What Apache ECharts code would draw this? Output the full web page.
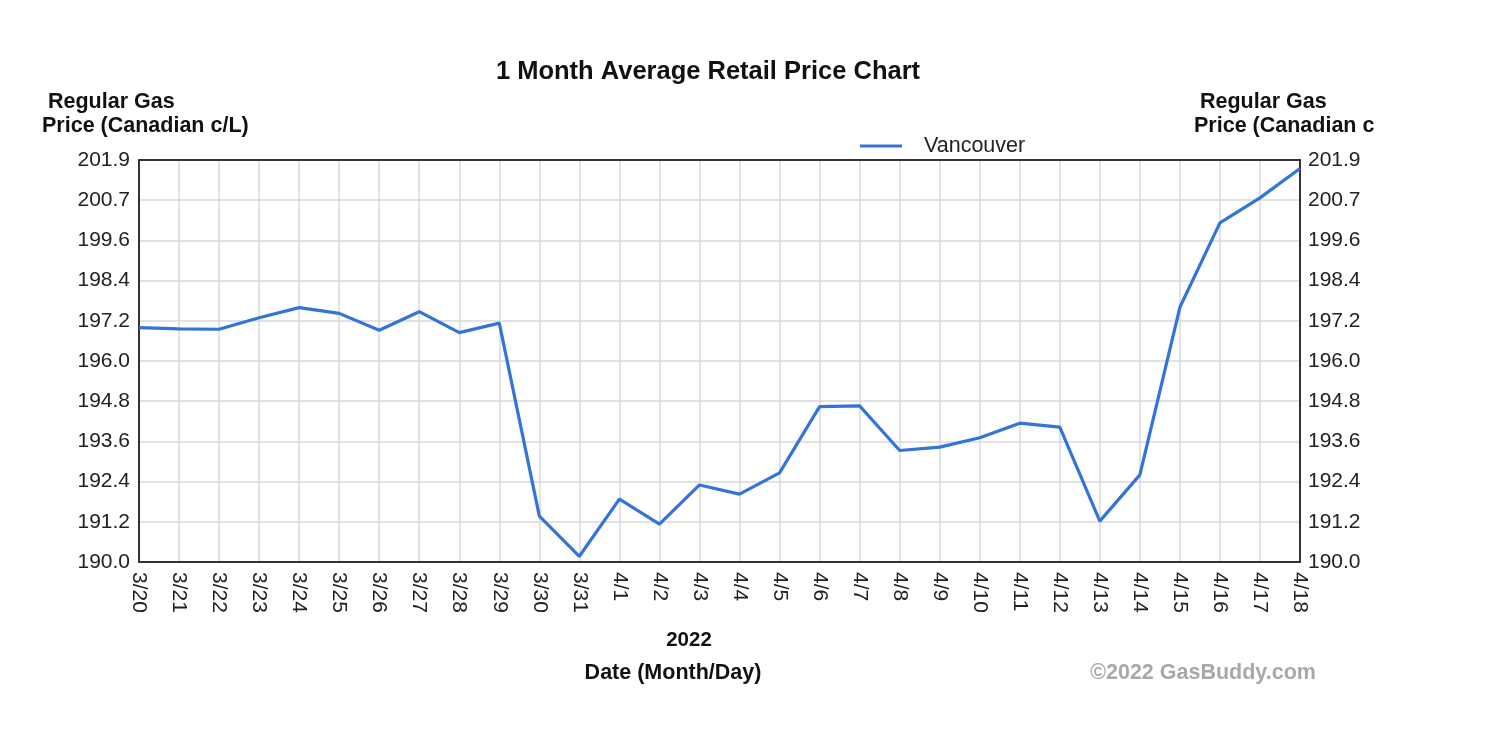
<!DOCTYPE html>
<html>
<head>
<meta charset="utf-8">
<script src="https://cdn.jsdelivr.net/npm/echarts@6/dist/echarts.min.js"></script>
<style>
html,body{margin:0;padding:0;background:#fff;}
#chart{width:1488px;height:736px;}
</style>
</head>
<body>
<div id="chart"></div>
<script>
const dates = ['3/20','3/21','3/22','3/23','3/24','3/25','3/26','3/27','3/28','3/29','3/30','3/31',
  '4/1','4/2','4/3','4/4','4/5','4/6','4/7','4/8','4/9','4/10','4/11','4/12','4/13','4/14','4/15','4/16','4/17','4/18'];
const vancouver = [196.94,196.90,196.89,197.23,197.53,197.36,196.86,197.41,196.79,197.07,191.36,190.17,
  191.86,191.12,192.28,192.01,192.64,194.60,194.62,193.30,193.40,193.68,194.11,193.99,191.21,192.58,197.54,200.04,200.78,201.65];
const yTickLabels = ['190.0','191.2','192.4','193.6','194.8','196.0','197.2','198.4','199.6','200.7','201.9'];
const yMin = 190.0, yMax = 201.9, yStep = 1.19;

const chart = echarts.init(document.getElementById('chart'));
const font = '"Liberation Sans", Arial, sans-serif';
const borderLine = {show: true, lineStyle: {color: '#333', width: 2}};
function yFmt(v){ const i = Math.round((v - yMin) / yStep); return yTickLabels[i] !== undefined ? yTickLabels[i] : ''; }
const yAxisCommon = {
  type: 'value', min: yMin, max: yMax, interval: yStep,
  axisLine: borderLine, axisTick: {show: false},
  splitLine: {show: true, lineStyle: {color: '#d9d9d9', width: 1.5}},
  axisLabel: {formatter: yFmt, color: '#222', fontSize: 21, fontFamily: font, margin: 9}
};
chart.setOption({
  animation: false,
  backgroundColor: '#fff',
  title: {
    text: '1 Month Average Retail Price Chart', left: 703, top: 54, textAlign: 'center',
    textStyle: {fontFamily: font, fontSize: 25.5, fontWeight: 'bold', color: '#111'}
  },
  legend: {
    data: ['Vancouver'], left: 855, top: 130, itemWidth: 42, itemHeight: 3, itemGap: 10,
    icon: 'rect',
    textStyle: {fontFamily: font, fontSize: 21.5, color: '#222', padding: [0,0,0,17]}
  },
  grid: {left: 139, top: 160, width: 1161, height: 402, show: false},
  xAxis: [{
    type: 'category', data: dates, boundaryGap: false, position: 'bottom',
    axisLine: borderLine, axisTick: {show: false},
    splitLine: {show: true, lineStyle: {color: '#d9d9d9', width: 1.5}},
    axisLabel: {rotate: -90, color: '#222', fontSize: 21, fontFamily: font, margin: 10, interval: 0}
  }, {
    type: 'category', data: dates, boundaryGap: false, position: 'top',
    axisLine: borderLine, axisTick: {show: false}, splitLine: {show: false}, axisLabel: {show: false}
  }],
  yAxis: [
    Object.assign({position: 'left'}, yAxisCommon),
    Object.assign({position: 'right'}, yAxisCommon, {splitLine: {show: false}, axisLabel: Object.assign({}, yAxisCommon.axisLabel, {margin: 8})})
  ],
  series: [{
    name: 'Vancouver', type: 'line', data: vancouver, showSymbol: false, symbol: 'none',
    lineStyle: {color: '#3374d8', width: 3.2}, itemStyle: {color: '#3374d8'}
  }],
  graphic: [
    {type: 'text', left: 48, top: 91, style: {text: 'Regular Gas', font: 'bold 21.5px ' + font, fill: '#111'}},
    {type: 'text', left: 42, top: 115, style: {text: 'Price (Canadian c/L)', font: 'bold 21.5px ' + font, fill: '#111'}},
    {type: 'text', left: 1200, top: 91, style: {text: 'Regular Gas', font: 'bold 21.5px ' + font, fill: '#111'}},
    {type: 'text', left: 1194, top: 115, style: {text: 'Price (Canadian c', font: 'bold 21.5px ' + font, fill: '#111'}},
    {type: 'text', x: 689, y: 640, style: {text: '2022', font: 'bold 20.5px ' + font, fill: '#111', align: 'center', verticalAlign: 'middle'}},
    {type: 'text', x: 673, y: 673, style: {text: 'Date (Month/Day)', font: 'bold 21.5px ' + font, fill: '#111', align: 'center', verticalAlign: 'middle'}},
    {type: 'text', x: 1203, y: 673, style: {text: '\u00A92022 GasBuddy.com', font: 'bold 21.5px ' + font, fill: '#a8a8a8', align: 'center', verticalAlign: 'middle'}}
  ]
});
</script>
</body>
</html>
